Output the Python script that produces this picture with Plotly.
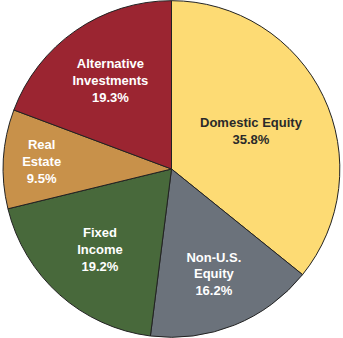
import plotly.graph_objects as go

labels = ["Domestic Equity", "Non-U.S.<br>Equity", "Fixed<br>Income", "Real<br>Estate", "Alternative<br>Investments"]
values = [35.8, 16.2, 19.2, 9.5, 19.3]
colors = ["#FDDB74", "#6B727B", "#48693B", "#C8914A", "#9B2531"]
text_colors = ["#2a2a2a", "white", "white", "white", "white"]

fig = go.Figure(go.Pie(
    labels=labels,
    values=values,
    sort=False,
    direction="clockwise",
    rotation=0,
    marker=dict(colors=colors, line=dict(color="#222222", width=1)),
    texttemplate="%{label}<br>%{value:.1f}%",
    textposition="inside",
    insidetextorientation="horizontal",
    textfont=dict(family="Liberation Sans, Arial, sans-serif", size=13, color=text_colors, weight="bold"),
    hoverinfo="label+percent",
    showlegend=False,
    domain=dict(x=[0.005, 0.995], y=[0.002, 0.998]),
))
fig.update_layout(
    width=343, height=338,
    margin=dict(l=0, r=0, t=0, b=0),
    paper_bgcolor="white",
    plot_bgcolor="white",
    uniformtext=dict(minsize=13, mode="show"),
)
fig.write_html("out.html")
